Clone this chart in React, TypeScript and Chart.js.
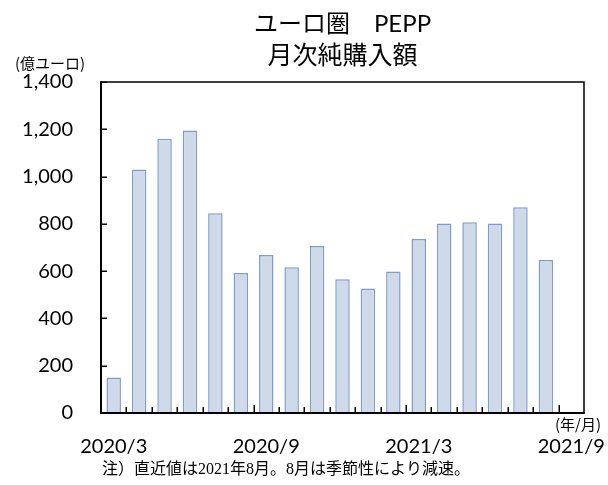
import React, { useEffect, useRef } from 'react';
import { Chart, registerables } from 'chart.js';

Chart.register(...registerables);

const months = [
  '2020/3', '2020/4', '2020/5', '2020/6', '2020/7', '2020/8', '2020/9', '2020/10', '2020/11', '2020/12',
  '2021/1', '2021/2', '2021/3', '2021/4', '2021/5', '2021/6', '2021/7', '2021/8', '2021/9',
];
const purchases: (number | null)[] = [
  150, 1030, 1160, 1195, 845, 592, 668, 616, 706, 566, 527, 598, 736, 801, 807, 801, 870, 647, null,
];
const shownMonthLabels = ['2020/3', '2020/9', '2021/3', '2021/9'];
const yMin = 0;
const yMax = 1400;
const yStep = 200;

const titleLine1 = 'ユーロ圏　PEPP';
const titleLine2 = '月次純購入額';
const yUnit = '(億ユーロ)';
const xUnit = '(年/月)';
const footnote = '注）直近値は2021年8月。8月は季節性により減速。';

const NUM_FONT = "Lato, 'Noto Sans CJK JP', sans-serif";
const JP_FONT = "'Noto Sans CJK JP', sans-serif";

const framePlugin = {
  id: 'frameAndTexts',
  afterDraw(chart: any) {
    const { ctx, chartArea: a, scales } = chart;
    const x = scales.x;
    const y = scales.y;
    ctx.save();
    ctx.strokeStyle = '#000';
    // top & right border
    ctx.lineWidth = 1.5;
    ctx.beginPath();
    ctx.moveTo(a.left, a.top);
    ctx.lineTo(a.right, a.top);
    ctx.lineTo(a.right, a.bottom);
    ctx.stroke();
    // left & bottom axes
    ctx.lineWidth = 2;
    ctx.beginPath();
    ctx.moveTo(a.left, a.top - 0.75);
    ctx.lineTo(a.left, a.bottom);
    ctx.lineTo(a.right + 0.75, a.bottom);
    ctx.stroke();
    // y ticks pointing inward
    ctx.lineWidth = 1.5;
    ctx.beginPath();
    y.ticks.forEach((t: any) => {
      const py = Math.round(y.getPixelForValue(t.value)) + 0.25;
      ctx.moveTo(a.left, py);
      ctx.lineTo(a.left + 6, py);
    });
    // x ticks at category boundaries pointing inward
    for (let k = 1; k < months.length; k++) {
      const px = Math.round(x.getPixelForValue(k - 0.5)) + 0.25;
      const len = shownMonthLabels.includes(months[k]) ? 8 : 6;
      ctx.moveTo(px, a.bottom);
      ctx.lineTo(px, a.bottom - len);
    }
    ctx.stroke();

    // texts
    ctx.fillStyle = '#000';
    ctx.textAlign = 'center';
    ctx.textBaseline = 'middle';
    const cx = (a.left + a.right) / 2;
    ctx.font = `24px ${NUM_FONT}`;
    ctx.fillText(titleLine1, cx, 24);
    ctx.font = `25px ${JP_FONT}`;
    ctx.fillText(titleLine2, cx, 54);
    ctx.font = `15px ${JP_FONT}`;
    ctx.fillText(yUnit, 50, 63);
    ctx.fillText(xUnit, 578, 424);
    ctx.font = `16px 'Liberation Serif', 'Noto Sans CJK JP', serif`;
    ctx.fillText(footnote, 286, 470);
    ctx.restore();
  },
};

export default function App() {
  const ref = useRef<HTMLCanvasElement | null>(null);
  useEffect(() => {
    document.body.style.margin = '0';
    const canvas = ref.current;
    if (!canvas) return;
    const chart = new Chart(canvas, {
      type: 'bar',
      data: {
        labels: months,
        datasets: [
          {
            data: purchases,
            backgroundColor: 'rgb(206, 217, 234)',
            borderColor: 'rgb(128, 157, 201)',
            borderWidth: 1.5,
            categoryPercentage: 1,
            barPercentage: 0.57,
          },
        ],
      },
      options: {
        responsive: false,
        animation: false,
        layout: { padding: { top: 82, right: 24, left: 0, bottom: 0 } },
        plugins: { legend: { display: false }, title: { display: false }, tooltip: { enabled: false } },
        scales: {
          x: {
            grid: { display: false, drawTicks: false },
            border: { display: false },
            ticks: {
              autoSkip: false,
              maxRotation: 0,
              minRotation: 0,
              padding: 22,
              color: '#000',
              font: { family: NUM_FONT, size: 20 },
              callback: (_v: any, i: number) => (shownMonthLabels.includes(months[i]) ? months[i] : ''),
            },
            afterFit: (s: any) => {
              s.height = 72;
              s.paddingLeft = 0;
              s.paddingRight = 0;
            },
          },
          y: {
            min: yMin,
            max: yMax,
            grid: { display: false, drawTicks: false },
            border: { display: false },
            ticks: {
              stepSize: yStep,
              padding: 28,
              color: '#000',
              font: { family: NUM_FONT, size: 20 },
              callback: (v: any) => Number(v).toLocaleString('en-US'),
            },
            afterFit: (s: any) => {
              s.width = 101;
              s.paddingTop = 0;
              s.paddingBottom = 0;
            },
          },
        },
      },
      plugins: [framePlugin],
    });
    return () => chart.destroy();
  }, []);
  return (
    <div style={{ width: 608, height: 485, background: '#fff' }}>
      <canvas ref={ref} width={608} height={485} />
    </div>
  );
}
